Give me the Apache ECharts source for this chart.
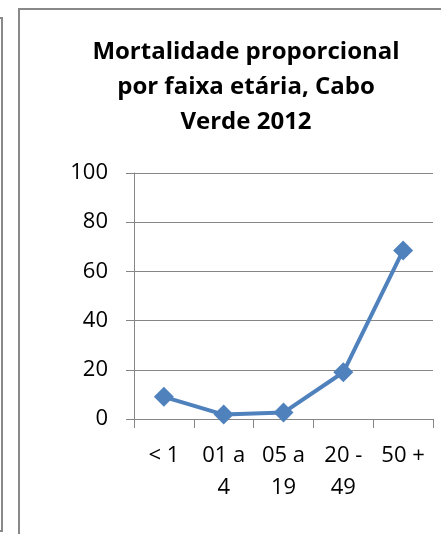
<!DOCTYPE html>
<html>
<head>
<meta charset="utf-8">
<script src="https://cdn.jsdelivr.net/npm/echarts@6/dist/echarts.min.js"></script>
<style>
  html, body { margin: 0; padding: 0; background: #fff; }
  #chart { width: 441px; height: 534px; }
</style>
</head>
<body>
<div id="chart"></div>
<script>
// faixas etárias e valores (%)
var categories = ['< 1', '01 a\n4', '05 a\n19', '20 -\n49', '50 +'];
var mortalidade = [9, 1.8, 2.6, 19, 68.5];
var yTicks = { min: 0, max: 100, interval: 20 };

var chart = echarts.init(document.getElementById('chart'));
var fontFamily = '"Open Sans", sans-serif';

chart.setOption({
  animation: false,
  backgroundColor: '#fff',
  title: {
    text: 'Mortalidade proporcional\npor faixa etária, Cabo\nVerde 2012',
    left: 241,
    top: 30,
    textAlign: 'center',
    textStyle: {
      fontFamily: fontFamily,
      fontSize: 24,
      fontWeight: 'bold',
      lineHeight: 35,
      color: '#000'
    }
  },
  grid: {
    left: 134,
    right: 8,
    top: 173,
    bottom: 115
  },
  xAxis: {
    type: 'category',
    data: categories,
    boundaryGap: true,
    axisLine: { lineStyle: { color: '#868686', width: 1 } },
    axisTick: { show: true, length: 9, interval: 0, lineStyle: { color: '#868686' } },
    axisLabel: {
      interval: 0,
      margin: 21,
      fontFamily: fontFamily,
      fontSize: 22,
      lineHeight: 32,
      color: '#000'
    }
  },
  yAxis: {
    type: 'value',
    min: yTicks.min,
    max: yTicks.max,
    interval: yTicks.interval,
    axisLine: { show: true, lineStyle: { color: '#868686', width: 1 } },
    axisTick: { show: true, length: 8, lineStyle: { color: '#868686' } },
    splitLine: { lineStyle: { color: '#868686', width: 1 } },
    axisLabel: {
      margin: 26,
      fontFamily: fontFamily,
      fontSize: 22,
      color: '#000'
    }
  },
  series: [{
    type: 'line',
    data: mortalidade,
    symbol: 'diamond',
    symbolSize: 20,
    itemStyle: { color: '#4F81BD' },
    lineStyle: { color: '#4F81BD', width: 4 }
  }],
  graphic: [
    // moldura do gráfico
    { type: 'rect', shape: { x: 19, y: 9, width: 600, height: 700 }, style: { fill: null, stroke: '#898989', lineWidth: 2 }, silent: true },
    // moldura do gráfico vizinho (à esquerda)
    { type: 'rect', shape: { x: -100, y: 18, width: 102, height: 513 }, style: { fill: null, stroke: '#898989', lineWidth: 2 }, silent: true }
  ]
});
</script>
</body>
</html>
